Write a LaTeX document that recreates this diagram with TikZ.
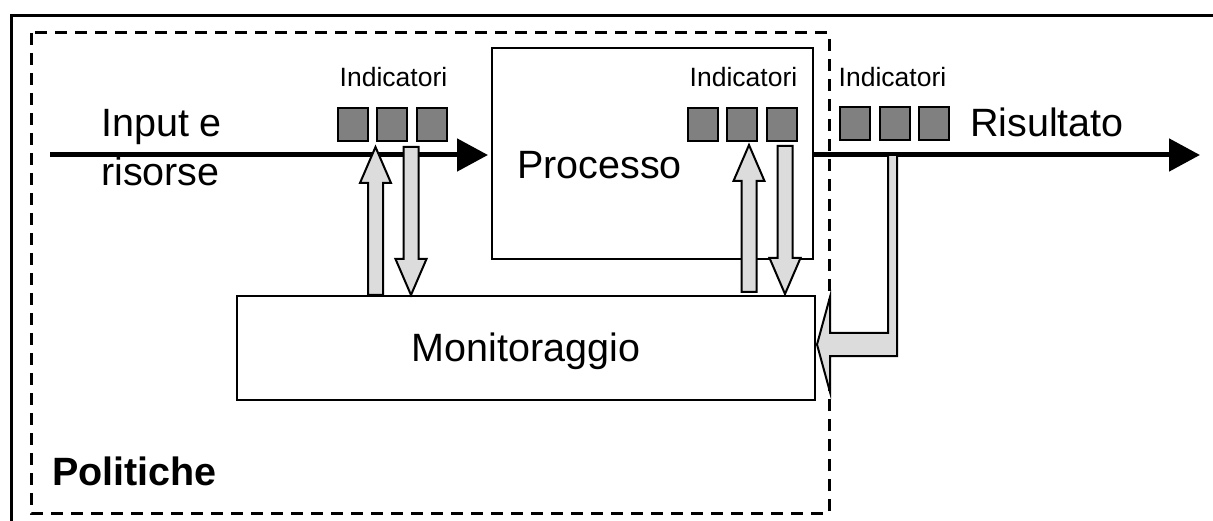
\documentclass[tikz,border=0pt]{standalone}
\usepackage{fontspec}
\setmainfont{Liberation Sans}
\usetikzlibrary{arrows.meta,calc}
\definecolor{sqgray}{RGB}{128,128,128}
\definecolor{lightfill}{RGB}{220,220,220}
\tikzset{
  frameline/.style={line width=3pt},
  policy/.style={line width=3pt,dash pattern=on 12pt off 8pt},
  procbox/.style={draw,line width=2pt,inner sep=0pt},
  sq/.style={draw,line width=2pt,fill=sqgray,minimum width=30pt,minimum height=33pt,inner sep=0pt},
  blockarrow/.style={draw,line width=2pt,fill=lightfill,line join=miter},
  flow/.style={line width=5pt,-{Triangle[length=31pt,width=32pt]}},
  bigtext/.style={inner sep=0pt,font=\fontsize{39.5}{42}\selectfont},
  boldtext/.style={inner sep=0pt,font=\fontsize{39.5}{42}\selectfont\bfseries},
  smalltext/.style={inner sep=0pt,font=\fontsize{26.5}{28}\selectfont}
}
\newcommand{\upblk}[3]{\draw[blockarrow] (#1-7.5,#2) -- (#1-7.5,#3+36) -- (#1-15.5,#3+36) -- (#1,#3) -- (#1+15.5,#3+36) -- (#1+7.5,#3+36) -- (#1+7.5,#2) -- cycle;}
\newcommand{\downblk}[3]{\draw[blockarrow] (#1-7.5,#2) -- (#1-7.5,#3-36) -- (#1-15.5,#3-36) -- (#1,#3) -- (#1+15.5,#3-36) -- (#1+7.5,#3-36) -- (#1+7.5,#2) -- cycle;}
\begin{document}
\begin{tikzpicture}[x=1pt,y=-1pt]
\useasboundingbox (0,0) rectangle (1213,521);
% outer frame (top and left only)
\draw[frameline] (1213,16) -- (11,16) -- (11,521);
% policy dashed region
\draw[policy] (31,33) rectangle (829,513);
% boxes
\node[procbox,minimum width=321pt,minimum height=211pt] (proc) at (652.5,153.5) {};
\node[procbox,minimum width=578pt,minimum height=104pt] (mon) at (526,348) {};
% texts
\node[bigtext,anchor=base west] (inp) at (101,137) {Input e};
\node[bigtext,anchor=base west] (ris) at (101,186) {risorse};
\node[bigtext,anchor=base west] (proct) at (517,179) {Processo};
\node[bigtext,anchor=base west] (res) at (970,137) {Risultato};
\node[bigtext,anchor=base] (mont) at (526,362) {Monitoraggio};
\node[boldtext,anchor=base west] (pol) at (52,485) {Politiche};
\node[smalltext,anchor=base] (ind1) at (393.5,87) {Indicatori};
\node[smalltext,anchor=base] (ind2) at (743.5,87) {Indicatori};
\node[smalltext,anchor=base] (ind3) at (892.5,87) {Indicatori};
% indicator squares
\node[sq] (a1) at (352.5,125) {};
\node[sq] (a2) at (391.5,125) {};
\node[sq] (a3) at (431.5,125) {};
\node[sq] (b1) at (702.5,125) {};
\node[sq] (b2) at (742,125) {};
\node[sq] (b3) at (782,125) {};
\node[sq] (c1) at (855,124) {};
\node[sq] (c2) at (895,124) {};
\node[sq] (c3) at (934,124) {};
% main flow
\coordinate (start) at (50,155);
\coordinate (finish) at (1200,155);
\draw[flow,shorten >=3pt] (start) -- (start -| proc.west);
\draw[flow] (proc.east |- finish) -- (finish);
% block arrows
\upblk{375.5}{295}{147}
\downblk{411}{147}{295}
\upblk{749}{292}{145}
\downblk{785}{146}{294}
% bent arrow from result indicators to monitoring
\draw[blockarrow] (888,155) -- (888,333) -- (830,333) -- (830,297) -- (817,344.5) -- (830,392) -- (830,356) -- (897,356) -- (897,155) -- cycle;
\end{tikzpicture}
\end{document}
